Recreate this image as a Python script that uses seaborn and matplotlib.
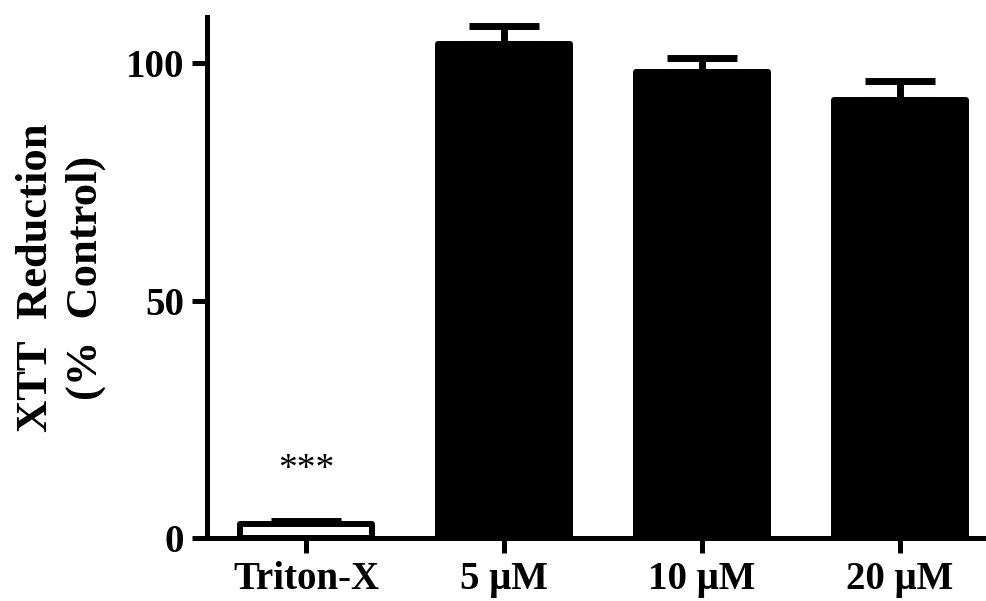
#!/usr/bin/env python3
# -*- coding: utf-8 -*-
""" XTT reduction bar chart (% of control) with one-sided error bars."""

# Imports
import seaborn as sns               # Bar plot
import matplotlib.pyplot as plt     # Figure / axes control
import pandas as pd                 # Dataframe for seaborn

# ---------------------------------------------------------------------------
# Data
groups = ['Triton-X', '5 \u03bcM', '10 \u03bcM', '20 \u03bcM']
means = [3.0, 104.0, 98.1, 92.2]
sem = [0.6, 3.8, 3.0, 4.0]
bar_colors = ['white', 'black', 'black', 'black']
y_ticks = [0, 50, 100]

# ---------------------------------------------------------------------------

sns.set_style('ticks')
plt.rcParams['font.family'] = ['Liberation Serif', 'DejaVu Serif']
plt.rcParams['font.weight'] = 'bold'
plt.rcParams.update({'text.color': 'black', 'axes.labelcolor': 'black',
                     'axes.edgecolor': 'black', 'xtick.color': 'black',
                     'ytick.color': 'black'})

df = pd.DataFrame({'group': groups, 'value': means})

fig = plt.figure(figsize=(9.87, 6.01), dpi=100)
ax = fig.add_axes([0.2097, 0.1048, 0.7903, 0.8669])

sns.barplot(data=df, x='group', y='value', hue='group', order=groups,
            palette=dict(zip(groups, bar_colors)), legend=False,
            width=0.67, edgecolor='black', linewidth=4.3, ax=ax)
for bar in ax.patches:
    bar.set_joinstyle('round')
    bar.set_zorder(2)

# Upper error bars only, stems hidden behind the bars
ax.errorbar(x=range(len(groups)), y=means, yerr=[[0] * len(sem), sem],
            fmt='none', ecolor='black', elinewidth=5, capsize=25, capthick=5,
            zorder=1)

# Significance marker over the Triton-X bar
ax.text(0, 14.3, '***', ha='center', va='center', fontsize=27,
        fontweight='normal', color='black')

ax.set_xlim(-0.5, 3.44)
ax.set_ylim(0, 109.7)
ax.set_yticks(y_ticks)
ax.set_xlabel('')
ax.set_ylabel('XTT  Reduction\n(%  Control)', fontsize=32, fontweight='bold',
              labelpad=14, linespacing=1.3, color='black')

sns.despine(ax=ax)
for side in ['left', 'bottom']:
    ax.spines[side].set_linewidth(3.6)
    ax.spines[side].set_color('black')
ax.tick_params(axis='both', labelsize=28, width=3.6, length=10.5, pad=6,
               color='black', labelcolor='black')
for lab in ax.get_xticklabels() + ax.get_yticklabels():
    lab.set_fontweight('bold')

fig.savefig('out.png', dpi=100)
